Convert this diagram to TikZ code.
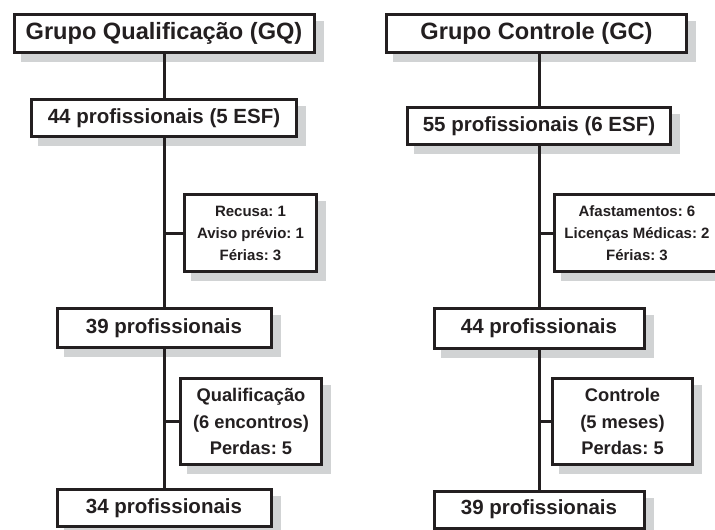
\documentclass[tikz,border=0pt]{standalone}
\usepackage{fontspec}
\setmainfont{Liberation Sans}
\usetikzlibrary{shadows}
\definecolor{ink}{HTML}{231F20}
\definecolor{shade}{HTML}{D1D3D4}
\frenchspacing
\newcommand{\padr}{\makebox[10pt]{}}
\begin{document}
\begin{tikzpicture}[x=1pt,y=-1pt,
  box/.style={draw=ink, line width=3pt, fill=white, inner sep=0pt, text=ink, align=center,
    drop shadow={shadow xshift=8pt, shadow yshift=-8pt, fill=shade, draw=shade, line width=3pt, opacity=1}},
  title/.style={box, font=\frenchspacing\fontsize{23.6}{28}\selectfont\bfseries},
  count/.style={box, font=\frenchspacing\fontsize{20.5}{24}\selectfont\bfseries},
  note/.style={box, font=\frenchspacing\fontsize{15}{22}\selectfont\bfseries},
  stage/.style={box, font=\frenchspacing\fontsize{18.3}{26.5}\selectfont\bfseries},
  link/.style={draw=ink, line width=3pt}]
\useasboundingbox (0,0) rectangle (715,530);
\clip (0,0) rectangle (715,530);

% Qualification group
\node[title, minimum width=300pt, minimum height=38pt] (gq) at (164,33.5) {Grupo Qualificação (GQ)};
\node[count, minimum width=265pt, minimum height=37pt] (l44) at (164,118) {44 profissionais (5 ESF)};
\node[note, minimum width=132pt, minimum height=77pt] (rec) at (250.5,233) {Recusa: 1\\Aviso prévio: 1\\Férias: 3};
\node[count, minimum width=214pt, minimum height=39pt] (l39) at (164,328) {39 profissionais};
\node[stage, minimum width=141pt, minimum height=86pt] (qual) at (251,421.5) {Qualificação\\(6 encontros)\\Perdas: 5};
\node[count, minimum width=214pt, minimum height=37pt] (l34) at (164,508) {34 profissionais};

% Control group (the absences box runs past the right edge)
\node[title, minimum width=300pt, minimum height=38pt] (gc) at (536.5,33.5) {Grupo Controle (GC)};
\node[count, minimum width=263pt, minimum height=37pt] (r55) at (539,126) {55 profissionais (6 ESF)};
\node[note, minimum width=175pt, minimum height=77pt] (afa) at (642,233) {Afastamentos: 6\padr\\Licenças Médicas: 2\padr\\Férias: 3\padr};
\node[count, minimum width=210pt, minimum height=40pt] (r44) at (539,328.5) {44 profissionais};
\node[stage, minimum width=140pt, minimum height=86pt] (ctrl) at (622.5,421.5) {Controle\\(5 meses)\\Perdas: 5};
\node[count, minimum width=210pt, minimum height=37pt] (r39) at (539,509.5) {39 profissionais};

% Connectors, left
\draw[link] (l44.north) -- (l44.north |- gq.south);
\draw[link] (l44.south) -- (l39.north);
\draw[link] (rec.west) -- (rec.west -| l44.south);
\draw[link] (l39.south) -- (l34.north);
\draw[link] (qual.west) -- (qual.west -| l39.south);

% Connectors, right
\draw[link] (r55.north) -- (r55.north |- gc.south);
\draw[link] (r55.south) -- (r44.north);
\draw[link] (afa.west) -- (afa.west -| r55.south);
\draw[link] (r44.south) -- (r39.north);
\draw[link] (ctrl.west) -- (ctrl.west -| r44.south);
\end{tikzpicture}
\end{document}
